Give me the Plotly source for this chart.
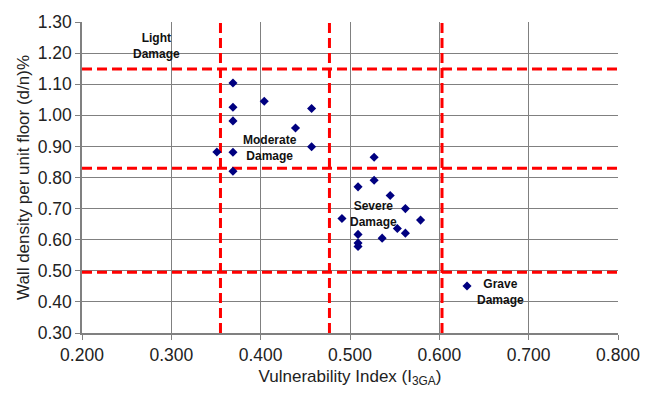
import plotly.graph_objects as go

# Data points (Vulnerability index vs wall density)
vuln_index = [0.369, 0.404, 0.369, 0.457, 0.369, 0.439, 0.457, 0.351, 0.369, 0.369,
              0.527, 0.527, 0.509, 0.545, 0.562, 0.491, 0.579, 0.553, 0.562, 0.509,
              0.536, 0.509, 0.509, 0.631]
wall_density = [1.104, 1.045, 1.026, 1.022, 0.982, 0.959, 0.899, 0.882, 0.881, 0.820,
                0.865, 0.791, 0.770, 0.742, 0.700, 0.668, 0.663, 0.636, 0.621, 0.617,
                0.605, 0.589, 0.578, 0.451]

# Damage thresholds
vuln_thresholds = [0.355, 0.477, 0.603]
density_thresholds = [1.149, 0.830, 0.495]

# Region labels
label_texts = ["Light<br>Damage", "Moderate<br>Damage", "Severe<br>Damage", "Grave<br>Damage"]
label_x = [0.283, 0.410, 0.526, 0.668]
label_y = [1.222, 0.895, 0.684, 0.431]

x_range = [0.2, 0.8]
y_range = [0.3, 1.3]

FONT = "Liberation Sans, Arial, Helvetica, sans-serif"

fig = go.Figure()

for xv in vuln_thresholds:
    fig.add_trace(go.Scatter(x=[xv, xv], y=y_range, mode="lines",
                             line=dict(color="#ff0000", width=3, dash="10px,5px"),
                             hoverinfo="skip", showlegend=False))
for yv in density_thresholds:
    fig.add_trace(go.Scatter(x=x_range, y=[yv, yv], mode="lines",
                             line=dict(color="#ff0000", width=3, dash="10px,5px"),
                             hoverinfo="skip", showlegend=False))

fig.add_trace(go.Scatter(x=vuln_index, y=wall_density, mode="markers",
                         marker=dict(symbol="diamond", size=7, color="#000080"),
                         showlegend=False))

for t, xv, yv in zip(label_texts, label_x, label_y):
    fig.add_annotation(x=xv, y=yv, xref="x", yref="y", text="<b>" + t + "</b>",
                       showarrow=False, font=dict(family=FONT, size=12, color="#111111"),
                       align="center")

fig.update_layout(
    width=652, height=395,
    margin=dict(l=82, r=25, t=15, b=60),
    paper_bgcolor="white", plot_bgcolor="white",
    font=dict(family=FONT, size=17.5, color="#222222"),
    showlegend=False,
)

fig.update_xaxes(range=x_range, dtick=0.1, tick0=0.2, tickformat=".3f",
                 showgrid=True, gridcolor="#808080", gridwidth=1,
                 showline=True, linecolor="#808080", linewidth=1.5,
                 ticks="outside", ticklen=5, tickcolor="#808080",
                 zeroline=False,
                 title=dict(text="Vulnerability Index (I<sub>3GA</sub>)", font=dict(size=17), standoff=6))
fig.update_yaxes(range=y_range, dtick=0.1, tick0=0.3, tickformat=".2f",
                 showgrid=True, gridcolor="#808080", gridwidth=1,
                 showline=True, linecolor="#808080", linewidth=1.5,
                 ticks="outside", ticklen=5, tickcolor="#808080",
                 zeroline=False,
                 title=dict(text="Wall density per unit floor (d/n)%", font=dict(size=17), standoff=4))

fig.write_html("out.html")
